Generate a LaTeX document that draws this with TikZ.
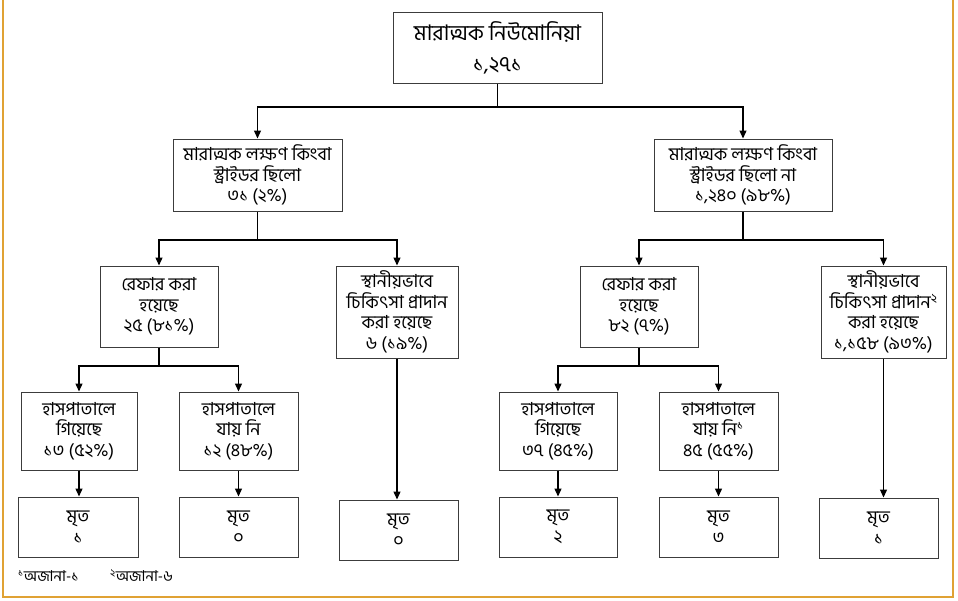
\documentclass[tikz,border=0pt]{standalone}
\usepackage{fontspec}
\newfontfamily\bn[Script=Bengali]{Hind Siliguri}
\usetikzlibrary{arrows.meta}
\definecolor{framegold}{RGB}{224,162,52}
\definecolor{boxline}{RGB}{60,60,60}
\tikzset{
  box/.style={draw=boxline, line width=1pt, align=center, inner sep=1pt,
    font=\bn\fontsize{18}{20.5}\selectfont, text=black, anchor=center},
  conn/.style={line width=1.3pt, draw=black},
  arr/.style={conn, -{Triangle[length=8pt,width=7pt]}},
  foot/.style={font=\bn\fontsize{15}{17}\selectfont, anchor=west, inner sep=0pt}
}
\begin{document}
\begin{tikzpicture}[x=1pt,y=1pt]
\useasboundingbox (0,0) rectangle (958,-600);
\draw[framegold, line width=1.6pt] (3,0) -- (3,-597) -- (953,-597) -- (953,0);

% level 1
\node[box, minimum width=209pt, minimum height=71pt, font=\bn\fontsize{21.5}{31}\selectfont] (top) at (497.5,-47.5) {মারাত্মক নিউমোনিয়া\\১,২৭১};

% level 2
\node[box, minimum width=169pt, minimum height=72pt] (sa) at (257.5,-175) {মারাত্মক লক্ষণ কিংবা\\স্ট্রাইডর ছিলো\\৩১ (২\%)};
\node[box, minimum width=178pt, minimum height=72pt] (sb) at (743,-175) {মারাত্মক লক্ষণ কিংবা\\স্ট্রাইডর ছিলো না\\১,২৪০ (৯৮\%)};

% level 3
\node[box, minimum width=118pt, minimum height=81pt] (ra) at (159,-306.5) {রেফার করা\\হয়েছে\\২৫ (৮১\%)};
\node[box, minimum width=122pt, minimum height=92pt] (la) at (397,-312) {স্থানীয়ভাবে\\চিকিৎসা প্রাদান\\করা হয়েছে\\৬ (১৯\%)};
\node[box, minimum width=118pt, minimum height=81pt] (rb) at (639,-306.5) {রেফার করা\\হয়েছে\\৮২ (৭\%)};
\node[box, minimum width=125pt, minimum height=92pt] (lb) at (883.5,-312) {স্থানীয়ভাবে\\চিকিৎসা প্রাদান\textsuperscript{২}\\করা হয়েছে\\১,১৫৮ (৯৩\%)};

% level 4
\node[box, minimum width=116pt, minimum height=78pt] (ha) at (79,-431) {হাসপাতালে\\গিয়েছে\\১৩ (৫২\%)};
\node[box, minimum width=119pt, minimum height=78pt] (hb) at (238.5,-431) {হাসপাতালে\\যায় নি\\১২ (৪৮\%)};
\node[box, minimum width=118pt, minimum height=78pt] (hc) at (558,-431) {হাসপাতালে\\গিয়েছে\\৩৭ (৪৫\%)};
\node[box, minimum width=119pt, minimum height=78pt] (hd) at (718.5,-431) {হাসপাতালে\\যায় নি\textsuperscript{১}\\৪৫ (৫৫\%)};

% level 5
\node[box, minimum width=120pt, minimum height=60pt] (da) at (78,-527) {মৃত\\১};
\node[box, minimum width=119pt, minimum height=60pt] (db) at (238.5,-527) {মৃত\\০};
\node[box, minimum width=119pt, minimum height=60pt] (dc) at (398.5,-530) {মৃত\\০};
\node[box, minimum width=118pt, minimum height=60pt] (dd) at (558,-527) {মৃত\\২};
\node[box, minimum width=119pt, minimum height=60pt] (de) at (718.5,-527) {মৃত\\৩};
\node[box, minimum width=119pt, minimum height=60pt] (df) at (878.5,-528) {মৃত\\১};

% footnotes
\node[foot] (f1) at (18,-576) {\textsuperscript{১}অজানা-১};
\node[foot] (f2) at (110,-576) {\textsuperscript{২}অজানা-৬};

% connectors
\coordinate (b1) at (top.south |- 0,-107);
\draw[conn] (top.south) -- (b1);
\draw[arr] (b1) -| (sa.north);
\draw[arr] (b1) -| (sb.north);

\coordinate (b2) at (sa.south |- 0,-240);
\draw[conn] (sa.south) -- (b2);
\draw[arr] (b2) -| (ra.north);
\draw[arr] (b2) -| (la.north);

\coordinate (b3) at (sb.south |- 0,-240);
\draw[conn] (sb.south) -- (b3);
\draw[arr] (b3) -| (rb.north);
\draw[arr] (b3) -| (lb.north);

\coordinate (b4) at (ra.south |- 0,-366);
\draw[conn] (ra.south) -- (b4);
\draw[arr] (b4) -| (ha.north);
\draw[arr] (b4) -| (hb.north);

\coordinate (b5) at (rb.south |- 0,-366);
\draw[conn] (rb.south) -- (b5);
\draw[arr] (b5) -| (hc.north);
\draw[arr] (b5) -| (hd.north);

\draw[arr] (ha.south) -- (da.north -| ha.south);
\draw[arr] (hb.south) -- (db.north);
\draw[arr] (hc.south) -- (dd.north);
\draw[arr] (hd.south) -- (de.north);
\draw[arr] (la.south) -- (dc.north -| la.south);
\draw[arr] (lb.south) -- (df.north -| lb.south);
\end{tikzpicture}
\end{document}
